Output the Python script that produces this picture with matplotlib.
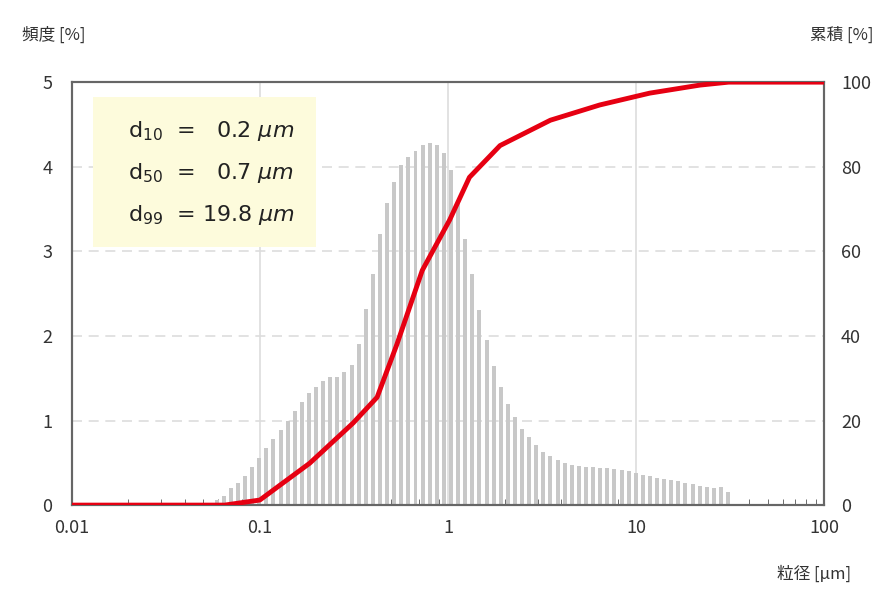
import numpy as np
import matplotlib
matplotlib.use("Agg")
import matplotlib.pyplot as plt
from matplotlib.ticker import FixedLocator, NullFormatter

plt.rcParams['font.family'] = ['Noto Sans CJK JP', 'DejaVu Sans']

freq = [0.06, 0.11, 0.20, 0.26, 0.35, 0.45, 0.56, 0.67, 0.78, 0.89, 1.00, 1.11, 1.22, 1.32,
        1.40, 1.47, 1.51, 1.52, 1.57, 1.66, 1.91, 2.32, 2.73, 3.20, 3.57, 3.82, 4.02, 4.12,
        4.19, 4.26, 4.28, 4.26, 4.16, 3.96,
        3.57, 3.15, 2.73, 2.31, 1.95, 1.65, 1.40, 1.20, 1.04, 0.90, 0.80, 0.71, 0.63, 0.58,
        0.53, 0.50, 0.47, 0.46, 0.45, 0.45, 0.44, 0.44, 0.43, 0.42, 0.40, 0.38, 0.36, 0.34,
        0.32, 0.31, 0.30, 0.28, 0.26, 0.25, 0.23, 0.21, 0.20, 0.21, 0.15]
size_first, size_last = 0.0589, 30.8

cum_x = [0.01, 0.065, 0.1, 0.184, 0.313, 0.42, 0.535, 0.73, 1.02, 1.30, 1.89, 3.5, 6.4, 11.8, 21.8, 31, 100]
cum_y = [0, 0, 1.2, 9.9, 19.4, 25.5, 38, 55.5, 67.4, 77.5, 85, 91, 94.6, 97.4, 99.3, 100, 100]

centers = np.geomspace(size_first, size_last, len(freq))
ratio = centers[1] / centers[0]
w = 0.28
lefts = centers * ratio ** (-w)
widths = centers * ratio ** w - lefts

fig = plt.figure(figsize=(8.96, 6.13), dpi=100)
ax = fig.add_axes([0.080, 0.176, 0.840, 0.690])
ax.set_xscale('log')
ax.set_xlim(0.01, 100)
ax.set_ylim(0, 5)
ax.bar(lefts, freq, width=widths, align='edge', color='#c8c8c8', zorder=2)
ax.set_yticks([0, 1, 2, 3, 4, 5])
ax.yaxis.grid(True, color='#dddddd', linestyle=(0, (6, 4)), linewidth=1.2, zorder=0)
ax.xaxis.grid(True, which='major', color='#dddddd', linewidth=1.2, zorder=0)
ax.set_xticks([0.01, 0.1, 1, 10, 100])
ax.set_xticklabels(['0.01', '0.1', '1', '10', '100'])
minors = [m * 10.0 ** e for e in range(-2, 2) for m in range(2, 10)]
ax.xaxis.set_minor_locator(FixedLocator(minors))
ax.xaxis.set_minor_formatter(NullFormatter())
ax.tick_params(axis='x', which='minor', direction='in', length=4, color='#555555')
ax.tick_params(axis='x', which='major', length=0, pad=10, labelsize=13, labelcolor='#333333')
ax.tick_params(axis='y', length=0, pad=14, labelsize=13, labelcolor='#333333')
for s in ax.spines.values():
    s.set_color('#666666'); s.set_linewidth(1.5)

ax2 = ax.twinx()
ax2.set_ylim(0, 100)
ax2.set_yticks([0, 20, 40, 60, 80, 100])
ax2.tick_params(axis='y', length=0, pad=12, labelsize=13, labelcolor='#333333')
ax2.plot(cum_x, cum_y, color='#e60012', linewidth=3.5, zorder=5, solid_capstyle='round')
for s in ax2.spines.values():
    s.set_color('#666666'); s.set_linewidth(1.5)

ax.add_patch(plt.Rectangle((0.028, 0.61), 0.297, 0.355, transform=ax.transAxes,
                           facecolor='#fdfbdc', edgecolor='none', zorder=3))
lines = [r'd$_{10}$  =   0.2 $\mathit{\mu m}$', r'd$_{50}$  =   0.7 $\mathit{\mu m}$',
         r'd$_{99}$  = 19.8 $\mathit{\mu m}$']
for i, t in enumerate(lines):
    ax.text(0.075, 0.885 - i * 0.1, t, transform=ax.transAxes, fontsize=16,
            color='#222222', va='center', zorder=4, family='DejaVu Sans')

fig.text(0.025, 0.935, '頻度 [%]', fontsize=12, color='#333333')
fig.text(0.975, 0.935, '累積 [%]', fontsize=12, color='#333333', ha='right')
fig.text(0.95, 0.055, '粒径 [μm]', fontsize=12, color='#333333', ha='right')

fig.savefig('out.png', dpi=100, facecolor='white')
